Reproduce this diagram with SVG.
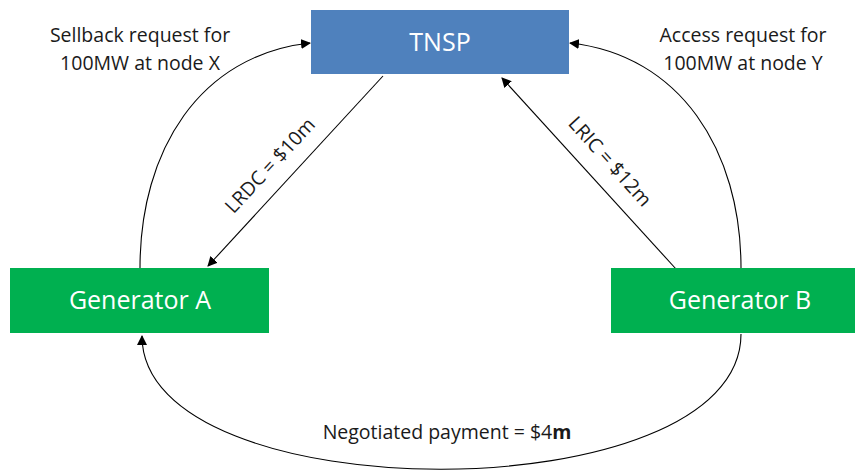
<svg xmlns="http://www.w3.org/2000/svg" width="857" height="472" viewBox="0 0 857 472">
  <defs>
    <marker id="arrow" viewBox="0 0 10 10" refX="9" refY="5" markerWidth="10" markerHeight="10" markerUnits="userSpaceOnUse" orient="auto">
      <path d="M0,0 L10,5 L0,10 z" fill="#000"/>
    </marker>
  </defs>
  <style>
    .lbl { font-family: "Open Sans", "Liberation Sans", sans-serif; font-size: 19.5px; fill: #1a1a1a; }
    .node-text { font-family: "Open Sans", "Liberation Sans", sans-serif; font-size: 25px; fill: #fff; text-anchor: middle; }
    .edge { fill: none; stroke: #000; stroke-width: 1.1; marker-end: url(#arrow); }
  </style>
  <rect width="857" height="472" fill="#fff"/>

  <g id="connectors">
    <path class="edge" d="M140,268 C140,150 200,55 310,43"/>
    <path class="edge" d="M741,268 C741,150 680,55 570,43"/>
    <path class="edge" d="M383,76 L208,266"/>
    <path class="edge" d="M676,269 L502,78"/>
    <path class="edge" d="M741,334 C741,514 142,514 142,336"/>
  </g>

  <g id="tnsp">
    <rect x="311" y="10" width="258" height="64" fill="#4F81BD"/>
    <text class="node-text" x="440" y="51">TNSP</text>
  </g>
  <g id="generator-a">
    <rect x="10" y="268" width="259" height="65" fill="#00B050"/>
    <text class="node-text" x="140" y="309">Generator A</text>
  </g>
  <g id="generator-b">
    <rect x="611" y="268" width="244" height="65" fill="#00B050"/>
    <text class="node-text" x="740" y="309">Generator B</text>
  </g>

  <g id="labels">
    <text class="lbl" text-anchor="middle" x="140" y="42">Sellback request for</text>
    <text class="lbl" text-anchor="middle" x="140" y="70">100MW at node X</text>
    <text class="lbl" text-anchor="middle" x="743" y="42">Access request for</text>
    <text class="lbl" text-anchor="middle" x="743" y="70">100MW at node Y</text>
    <text class="lbl" text-anchor="middle" transform="translate(275,170) rotate(-47)">LRDC = $10m</text>
    <text class="lbl" text-anchor="middle" transform="translate(605,166) rotate(48)">LRIC = $12m</text>
    <text class="lbl" text-anchor="middle" x="447" y="439">Negotiated payment = $4<tspan font-weight="bold">m</tspan></text>
  </g>
</svg>
